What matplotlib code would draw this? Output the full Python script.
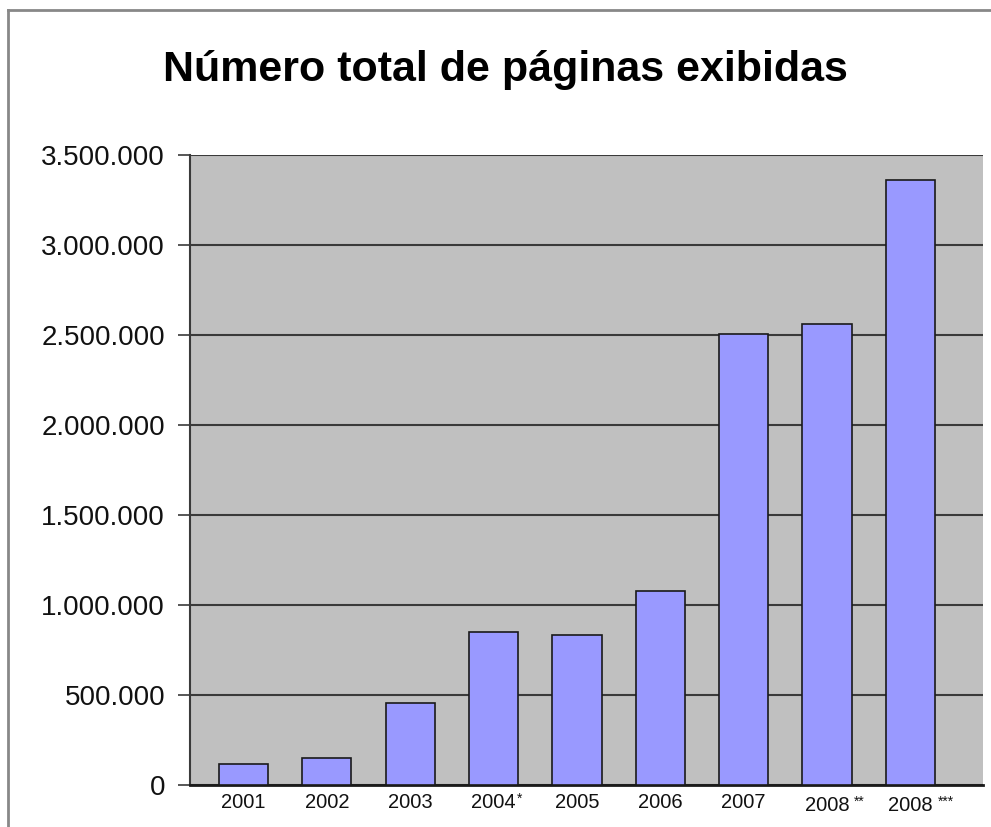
import matplotlib
matplotlib.use("Agg")
import matplotlib.pyplot as plt
from matplotlib.lines import Line2D
from matplotlib.ticker import FuncFormatter
from matplotlib.transforms import blended_transform_factory, ScaledTranslation

categories = ["2001", "2002", "2003", "2004", "2005", "2006", "2007", "2008", "2008"]
suffixes = ["", "", "", "*", "", "", "", "**", "***"]
values = [117000, 150000, 456000, 850000, 833000, 1078000, 2505000, 2560000, 3360000]
yticks = [0, 500000, 1000000, 1500000, 2000000, 2500000, 3000000, 3500000]

plt.rcParams['font.family'] = ['Liberation Sans', 'DejaVu Sans']

fig = plt.figure(figsize=(9.91, 8.27), dpi=100)
ax = fig.add_axes([190/991, 1-785/827, (983-190)/991, (785-155)/827])
ax.set_facecolor('#c0c0c0')

x = list(range(len(categories)))
ax.bar(x, values, width=0.59, color='#9999ff', edgecolor='#1a1a1a', linewidth=1.2, zorder=3)

ax.set_ylim(0, 3500000)
ax.set_xlim(-0.64, 8.87)
ax.set_yticks(yticks)
ax.yaxis.set_major_formatter(FuncFormatter(lambda v, p: f"{int(v):,}".replace(",", ".")))
ax.grid(axis='y', color='#3a3a3a', linewidth=1.5, zorder=1)
ax.set_axisbelow(True)

ax.set_xticks(x)
ax.set_xticklabels([])
ax.tick_params(axis='x', length=0)
ax.tick_params(axis='y', length=8.6, width=1.2, color='#3a3a3a', labelsize=20, pad=9.4,
               labelcolor='#111111')

trans = blended_transform_factory(ax.transData, ax.transAxes)
for i, (c, s) in enumerate(zip(categories, suffixes)):
    dy = -3 if len(s) >= 2 else 0
    ax.text(i, 0, c, transform=trans + ScaledTranslation(0, (-8 + dy)/100, fig.dpi_scale_trans),
            ha='center', va='top', fontsize=14.5, color='#111111')
    if s:
        ax.text(i, 0, s, transform=trans + ScaledTranslation((23 + (4 if len(s) >= 2 else 0))/100,
                                                             (-7 + dy)/100, fig.dpi_scale_trans),
                ha='left', va='top', fontsize=10, color='#111111')

for s in ['top', 'right']:
    ax.spines[s].set_visible(False)
ax.spines['left'].set_color('#3a3a3a')
ax.spines['left'].set_linewidth(1.5)
ax.spines['bottom'].set_color('#1a1a1a')
ax.spines['bottom'].set_linewidth(2)

fig.text(505/991, 1-70/827, "Número total de páginas exibidas", ha='center', va='center',
         fontsize=31, fontweight='bold', color='black')

fig.add_artist(Line2D([8/991, 1], [1-10/827, 1-10/827], color='#888888', linewidth=2, transform=fig.transFigure))
fig.add_artist(Line2D([8/991, 8/991], [0, 1-10/827], color='#888888', linewidth=2, transform=fig.transFigure))

fig.savefig("out.png", dpi=100)
